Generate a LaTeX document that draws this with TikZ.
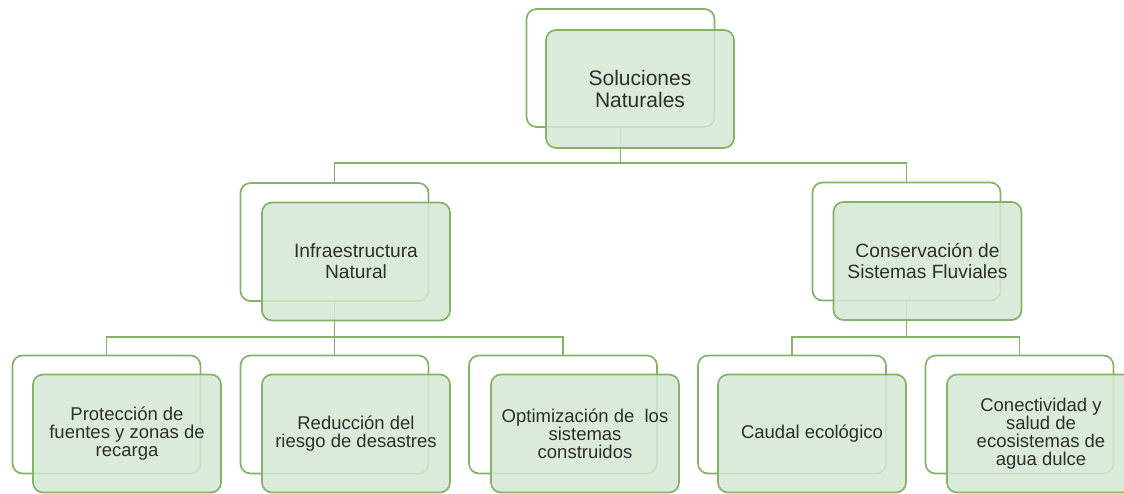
\documentclass[tikz,border=0pt]{standalone}
\usepackage{fontspec}
\setmainfont{Liberation Sans}
\definecolor{gborder}{HTML}{82B366}
\definecolor{gfill}{HTML}{D5E8D4}
\definecolor{txt}{HTML}{2E2E2E}
\tikzset{
  box/.style={rectangle, rounded corners=10pt, draw=gborder, line width=1.7pt,
    minimum width=188pt, minimum height=118pt, inner sep=0pt},
  backbox/.style={box, fill=white},
  frontbox/.style={box, fill=gfill, fill opacity=0.85, text opacity=1,
    text=txt, align=center},
  conn/.style={draw=gborder, line width=1.6pt},
  lone/.style={font=\fontsize{21}{22}\selectfont},
  ltwo/.style={font=\fontsize{19.2}{21}\selectfont},
  lthree/.style={font=\fontsize{18.5}{18}\selectfont},
}
\begin{document}
\begin{tikzpicture}[x=1pt,y=-1pt]
\useasboundingbox (0,0) rectangle (1124,493);
\clip (0,0) rectangle (1124,493);
% back boxes
\node[backbox] (topB) at (620.5,68) {};
\node[backbox] (lB) at (334.5,242) {};
\node[backbox] (rB) at (906.5,241.5) {};
\node[backbox] (c1B) at (106.5,414.5) {};
\node[backbox] (c2B) at (334.5,414.5) {};
\node[backbox] (c3B) at (563,414.5) {};
\node[backbox] (c4B) at (792,414.5) {};
\node[backbox] (c5B) at (1019.5,414.5) {};
% bus coordinates
\coordinate (bus1) at (620.5,163);
\coordinate (bus2) at (334.5,337);
\coordinate (bus3) at (906.5,337);
% connectors
\draw[conn] (topB.south) -- (bus1);
\draw[conn] (lB.north) |- (bus1) -| (rB.north);
\draw[conn] (lB.south) -- (bus2);
\draw[conn] (c1B.north) |- (bus2) -| (c3B.north);
\draw[conn] (bus2) -- (c2B.north);
\draw[conn] (rB.south) -- (bus3);
\draw[conn] (c4B.north) |- (bus3) -| (c5B.north);
% front boxes
\node[frontbox, lone] (topF) at (640,89) {Soluciones\\Naturales};
\node[frontbox, ltwo] (lF) at (356,261.5) {Infraestructura\\Natural};
\node[frontbox, ltwo] (rF) at (927.5,261) {Conservación de\\Sistemas Fluviales};
\node[frontbox, lthree] (c1F) at (127,433.5) {Protección de\\fuentes y zonas de\\recarga};
\node[frontbox, lthree] (c2F) at (356,433.5) {Reducción del\\riesgo de desastres};
\node[frontbox, lthree] (c3F) at (585,433.5) {Optimización de\ \ los\\sistemas\\construidos};
\node[frontbox, lthree] (c4F) at (812,433.5) {Caudal ecológico};
\node[frontbox, lthree] (c5F) at (1041,433.5) {Conectividad y\\salud de\\ecosistemas de\\agua dulce};
\end{tikzpicture}
\end{document}
